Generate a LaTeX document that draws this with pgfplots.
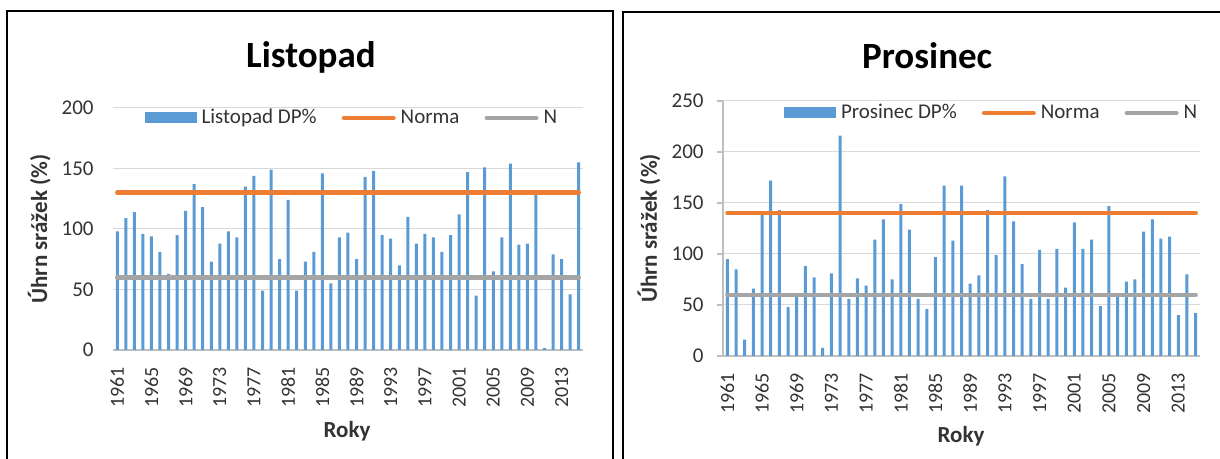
\documentclass[border=0pt]{standalone}
\usepackage{pgfplots}
\pgfplotsset{compat=1.18}
\usepackage{pgfplotstable}
\usepackage{fontspec}
\setmainfont{Carlito}
\definecolor{barblue}{HTML}{5B9BD5}
\definecolor{normorange}{HTML}{ED7D31}
\definecolor{ngray}{HTML}{A5A5A5}
\definecolor{gridgray}{HTML}{D9D9D9}
\definecolor{axgray}{HTML}{BFBFBF}
\definecolor{txt}{HTML}{333333}

\pgfplotstableread{
x v
0 98
1 109
2 114
3 96
4 94
5 81
6 63
7 95
8 115
9 137
10 118
11 73
12 88
13 98
14 93
15 135
16 144
17 49
18 149
19 75
20 124
21 49
22 73
23 81
24 146
25 55
26 93
27 97
28 75
29 143
30 148
31 95
32 92
33 70
34 110
35 88
36 96
37 93
38 81
39 95
40 112
41 147
42 45
43 151
44 65
45 93
46 154
47 87
48 88
49 129
50 1.5
51 79
52 75
53 46
54 155
}\listopad

\pgfplotstableread{
x v
0 95
1 85
2 16
3 66
4 138
5 172
6 143
7 48
8 58
9 88
10 77
11 8
12 81
13 216
14 56
15 76
16 69
17 114
18 134
19 75
20 149
21 124
22 56
23 46
24 97
25 167
26 113
27 167
28 71
29 79
30 143
31 99
32 176
33 132
34 90
35 56
36 104
37 56
38 105
39 67
40 131
41 105
42 114
43 49
44 147
45 58
46 73
47 75
48 122
49 134
50 115
51 117
52 40
53 80
54 42
}\prosinec

\pgfplotsset{
  panel/.style={
    scale only axis,
    xmin=-0.5, xmax=54.5, ymin=0,
    axis x line*=bottom, axis y line*=left,
    x axis line style={-, draw=axgray, line width=0.7pt},
    xtick={0,4,...,52},
    xticklabels={1961,1965,1969,1973,1977,1981,1985,1989,1993,1997,2001,2005,2009,2013},
    xtick style={draw=none},
    xticklabel style={rotate=90, anchor=east, inner sep=0pt, font=\fontsize{10}{12}\selectfont, text=txt},
    yticklabel style={anchor=east, inner sep=0pt, font=\fontsize{10.5}{12}\selectfont, text=txt},
    /pgf/number format/assume math mode=true,
    ymajorgrids, xmajorgrids=false,
    grid style={gridgray, line width=0.5pt},
    title style={anchor=base, yshift=-6pt, font=\bfseries\fontsize{18.5}{21}\selectfont},
    xlabel style={anchor=base, font=\bfseries\fontsize{11.5}{13}\selectfont, text=txt},
    ylabel style={anchor=center, font=\bfseries\fontsize{11.5}{13}\selectfont, text=txt},
    legend columns=3,
    legend style={draw=none, fill=none, anchor=center,
      font=\fontsize{10.5}{12}\selectfont, text=txt,
      nodes={inner sep=0pt},
      /tikz/every odd column/.append style={column sep=2.5pt},
      /tikz/every even column/.append style={column sep=12.5pt}},
  },
  barser/.style={ybar, bar width=1.5pt, fill=barblue, draw=none,
    legend image code/.code={\fill[barblue] (0pt,-2.75pt) rectangle (26pt,2.75pt);}},
  normser/.style={normorange, line width=2.2pt, line cap=round, mark=none,
    legend image code/.code={\draw[normorange, line width=2.2pt, line cap=round] (1.1pt,0pt) -- (25.9pt,0pt);}},
  nser/.style={ngray, line width=2.2pt, line cap=round, mark=none,
    legend image code/.code={\draw[ngray, line width=2.2pt, line cap=round] (1.1pt,0pt) -- (25.9pt,0pt);}},
}

\begin{document}
\begin{tikzpicture}
\draw[black, line width=1.25pt] (3.5pt,-10pt) rectangle (306.5pt,224pt);
\draw[black, line width=1.25pt] (311.5pt,-10pt) rectangle (620pt,223.5pt);

\begin{axis}[panel,
  at={(56.5pt,54.5pt)}, anchor=south west,
  width=235pt, height=121pt,
  ymax=200, ytick={0,50,100,150,200},
  y axis line style={draw=none},
  ytick style={draw=none}, major tick length=0pt,
  xticklabel shift=8.5pt, yticklabel shift=9.5pt,
  title={Listopad}, title style={at={(axis description cs:0.421,1.169)}},
  xlabel={Roky}, xlabel style={at={(axis description cs:0.498,-0.3636)}},
  ylabel={Úhrn srážek (\%)}, ylabel style={at={(axis description cs:-0.157,0.5)}},
  legend style={at={(0.506,0.959)}},
]
\addplot[barser] table[x=x,y=v]{\listopad};
\addlegendentry{Listopad DP\%}
\addplot[normser] coordinates {(0,130) (54,130)};
\addlegendentry{Norma}
\addplot[nser] coordinates {(0,60) (54,60)};
\addlegendentry{N}
\end{axis}

\begin{axis}[panel,
  at={(361.5pt,51.5pt)}, anchor=south west,
  width=238.5pt, height=127.5pt,
  ymax=250, ytick={0,50,100,150,200,250},
  y axis line style={-, draw=axgray, line width=0.7pt},
  tick align=outside, major tick length=3pt,
  ytick style={axgray, line width=0.7pt},
  xticklabel shift=5.5pt, yticklabel shift=6.5pt,
  title={Prosinec}, title style={at={(axis description cs:0.428,1.129)}},
  xlabel={Roky}, xlabel style={at={(axis description cs:0.499,-0.341)}},
  ylabel={Úhrn srážek (\%)}, ylabel style={at={(axis description cs:-0.155,0.5)}},
  legend style={at={(0.561,0.953)}},
]
\addplot[barser] table[x=x,y=v]{\prosinec};
\addlegendentry{Prosinec DP\%}
\addplot[normser] coordinates {(0,140) (54,140)};
\addlegendentry{Norma}
\addplot[nser] coordinates {(0,60) (54,60)};
\addlegendentry{N}
\end{axis}

\pgfresetboundingbox
\useasboundingbox (0,0) rectangle (610pt,229.5pt);
\end{tikzpicture}
\end{document}
